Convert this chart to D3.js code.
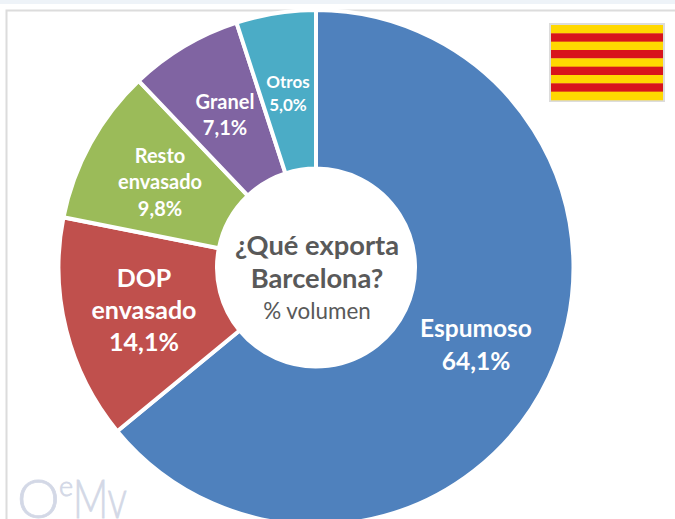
<!DOCTYPE html>
<html><head><meta charset="utf-8">
<script src="https://cdn.jsdelivr.net/npm/d3@7"></script>
<style>html,body{margin:0;padding:0;background:#fff;overflow:hidden}svg{display:block}text{font-family:Lato,"Open Sans",sans-serif}</style>
</head><body><div id="c"></div>
<script>
const categories=[["Espumoso"],["DOP","envasado"],["Resto","envasado"],["Granel"],["Otros"]];
const values=[64.1,14.1,9.8,7.1,5.0];
const valueLabels=["64,1%","14,1%","9,8%","7,1%","5,0%"];
const colors=["#4f81bd","#c0504d","#9bbb59","#8064a2","#4bacc6"];
const labelSizes=[24.5,25,20,20,17];
const labelPos=[[476,347.5],[144,313],[160,184],[225,117],[288,95]];
const lineHeights=[33,32,26.5,26,23];
const flagStripes=["#ffd800","#d8141c","#ffd800","#d8141c","#ffd800","#d8141c","#ffd800","#d8141c","#ffd800"];
const centerTitle=["¿Qué exporta","Barcelona?"];
const centerSub="% volumen";

const W=675,H=519,cx=316,cy=267.5,R=257.5,r=99;
const svg=d3.select("#c").append("svg").attr("width",W).attr("height",H);
svg.append("rect").attr("width",W).attr("height",4).attr("fill","#eef3f8");
svg.append("path").attr("d",`M6.5 ${H}V10.5H${W}`).attr("fill","none").attr("stroke","#dcdcdc").attr("stroke-width",2);

const logo=svg.append("g").attr("fill","#d3d8e6").attr("stroke","#d3d8e6").attr("stroke-width",.8).attr("font-weight",300);
logo.append("text").attr("x",17).attr("y",518).attr("font-size",54).text("O");
logo.append("text").attr("x",59).attr("y",496).attr("font-size",27).text("e");
logo.append("text").attr("x",73).attr("y",518).attr("font-size",54).attr("textLength",54).attr("lengthAdjust","spacingAndGlyphs").text("Mv");

const pie=d3.pie().sort(null).value(d=>d);
const arc=d3.arc().innerRadius(r).outerRadius(R);
const g=svg.append("g").attr("transform",`translate(${cx},${cy})`);
g.selectAll("path").data(pie(values)).join("path").attr("d",arc)
 .attr("fill",(d,i)=>colors[i]).attr("stroke","#fff").attr("stroke-width",4);

categories.forEach((cat,i)=>{
  const lines=[...cat,valueLabels[i]];
  const t=svg.append("text").attr("text-anchor","middle").attr("fill","#fff").attr("font-weight",700).attr("font-size",labelSizes[i]);
  const y0=labelPos[i][1]-(lines.length-1)*lineHeights[i]/2;
  lines.forEach((s,j)=>t.append("tspan").attr("x",labelPos[i][0]).attr("y",y0+j*lineHeights[i]).attr("dominant-baseline","middle").text(s));
});

const ct=svg.append("text").attr("text-anchor","middle").attr("fill","#595959").attr("font-weight",700).attr("font-size",27.3);
centerTitle.forEach((s,j)=>ct.append("tspan").attr("x",317).attr("y",255+j*33).text(s));
svg.append("text").attr("x",317).attr("y",319).attr("text-anchor","middle").attr("fill","#595959").attr("font-size",22.4).text(centerSub);

const fx=d3.scaleBand().domain(d3.range(flagStripes.length)).range([25,100]);
svg.append("rect").attr("x",549).attr("y",23).attr("width",116).attr("height",79).attr("fill","#dcdcdc");
svg.selectAll("rect.s").data(flagStripes).join("rect").attr("class","s").attr("x",551).attr("width",112)
 .attr("y",(d,i)=>fx(i)).attr("height",fx.bandwidth()+.3).attr("fill",d=>d);
</script></body></html>
